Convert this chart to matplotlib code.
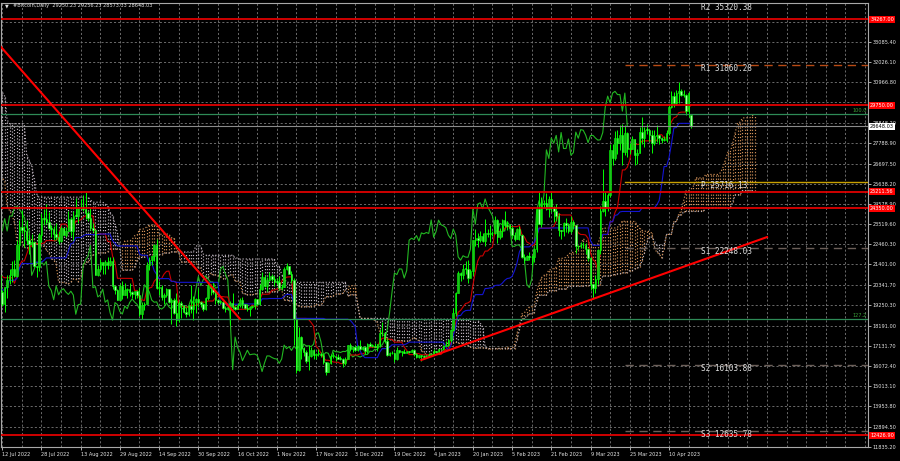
import matplotlib
matplotlib.use("Agg")
import matplotlib.pyplot as plt
import numpy as np
import pandas as pd
from matplotlib import font_manager

# daily bars from 2022-04-25; bars before 11 Jul 2022 are only there to feed the Ichimoku
first_day = "2022-04-25"
first_open = 39440
last_open = 29250.23

highs = [
    40620, 40800, 39450, 40370, 39400, 38800,
    38680, 39150, 38650, 39970, 39850, 36650, 36130, 35500, 34240, 32620,
    32130, 30030, 30980, 30220, 31420, 31300, 30760, 30680, 30500, 30730,
    29610, 30420, 30620, 29810, 30190, 29830, 29360, 29150, 29520, 32150, 32250,
    31950, 30620, 30640, 29920, 30130, 31720, 31550, 31300, 30650, 30320,
    29420, 28530, 26840, 23000, 22700, 22920, 21320, 20740, 20800, 21060,
    21690, 20800, 21200, 21510, 21570, 21830, 21490, 21170, 20410, 20140,
    20850, 19400, 19620, 20320, 20700, 20620, 21800, 22500, 21920, 21600,
    20880, 20050, 20230, 20830, 21180, 21560, 21640, 22700, 23750, 24260,
    23400, 23720, 22960, 22990, 22650, 21340, 23030, 24120, 24320, 24580, 24160,
    23460, 23410, 23590, 23180, 23420, 23320, 23350, 24200, 23900, 24200,
    24900, 24440, 24860, 25050, 25210, 24220, 24440, 23590, 23200, 21380,
    21680, 21520, 21640, 21800, 21810, 21800, 20340, 20140, 20360, 20540, 20450,
    20180, 20430, 20030, 20000, 20050, 20150, 19430, 19440, 21540, 21770,
    21850, 22480, 22760, 20520, 20300, 19880, 20170, 20110, 19660, 19620,
    19900, 19480, 19470, 19300, 19190, 19300, 20340, 19750, 19620, 20160,
    19480, 19390, 19680, 20460, 20360, 20440, 20040, 19600, 19520, 19500,
    19220, 19200, 19500, 19900, 19210, 19360, 19640, 19690, 19350, 19320,
    19230, 19250, 19660, 19590, 20380, 21000, 20840, 20730, 21030, 20910, 20790,
    20670, 20780, 20380, 21280, 21460, 21340, 21040, 20670, 18590, 18140,
    17640, 17060, 16890, 17150, 17090, 16970, 16730, 16940, 16800, 16740,
    16300, 16290, 16680, 16790, 16610, 16680, 16590, 16480, 16530, 17200,
    17300, 17100, 17150, 17190, 17420, 17100, 17130, 17280, 17350, 17220,
    17260, 17240, 18000, 18370, 17850, 17520, 16800, 16860, 16810, 17060,
    16900, 16860, 16950, 16870, 16860, 16940, 16960, 16780, 16650, 16640, 16630,
    16630, 16760, 16780, 16990, 16880, 16990, 16980, 17180, 17390, 17490,
    17990, 19100, 19960, 21080, 21000, 21440, 21600, 21630, 21180, 22700,
    23280, 23050, 23170, 23080, 23790, 23240, 23480, 23160, 23930, 23780, 23300,
    23770, 24230, 23690, 23550, 23430, 23130, 23330, 23430, 22980, 21940,
    21890, 22080, 21890, 22290, 24340, 25230, 24960, 24770, 25130, 25020,
    25250, 24470, 24570, 24130, 23210, 23640, 23860, 23560,
    23950, 23760, 23470, 22420, 22600, 22560, 22530, 22270, 21820, 20380,
    20830, 22190, 24490, 26390, 25200, 25170, 27720, 27720, 28390, 28450,
    28750, 28800, 28740, 28370, 27760, 28160, 27990, 27480, 28620, 29160, 28640,
    28800, 28520, 28480, 28440, 28740, 28180, 28110, 28170, 28470, 29770,
    30520, 30440, 30560, 31000, 30600, 30550, 30330, 30440, 29256.23,
]

lows = [
    38200, 37700, 37880, 38880, 38200, 37600,
    37390, 38050, 37520, 37680, 35860, 35270, 34780, 33710, 30030, 29940,
    27990, 26700, 28750, 28690, 29480, 29110, 29450, 28690, 28700, 28750,
    28950, 29230, 28900, 28650, 29310, 28030, 28260, 28490, 28860, 29370, 31260,
    29330, 29600, 29280, 29480, 29460, 29880, 29250, 29900, 29950, 28860,
    28100, 26600, 22310, 20850, 20110, 20240, 20270, 17620, 17960, 19670,
    20370, 19770, 19900, 20870, 20890, 20970, 20520, 20190, 19890, 18640,
    18980, 18990, 18790, 19050, 19300, 19800, 20250, 21220, 21350, 20700,
    19880, 19240, 18910, 19630, 20400, 20480, 20770, 20770, 21660, 23050,
    22340, 22500, 21960, 22300, 21260, 20730, 21060, 22590, 23450, 23520, 23260,
    22850, 22670, 22700, 22460, 22600, 22950, 22860, 23150, 22900, 22700,
    23900, 23580, 24300, 24200, 23800, 23710, 23220, 23120, 20840, 20790,
    21080, 20900, 20890, 21160, 21310, 20110, 19830, 19540, 19560, 19600, 19840,
    19650, 19770, 19660, 19610, 19650, 18690, 18560, 19030, 19320, 21120,
    21360, 21600, 20090, 19800, 19560, 19350, 19700, 19390, 18270, 18800,
    18170, 18360, 18600, 18840, 18650, 18680, 18850, 18510, 18880, 19190,
    19180, 18970, 19030, 19520, 19780, 19860, 19350, 19330, 19330, 19090,
    18930, 19000, 18200, 19090, 19020, 19060, 19160, 19130, 19080, 18950,
    18680, 19130, 19080, 19200, 19300, 20060, 20220, 20010, 20560, 20520, 20260,
    20370, 20060, 20040, 20200, 21090, 20880, 20440, 17200, 15680, 15800,
    16420, 16590, 16230, 15870, 16560, 16440, 16440, 16620, 16560, 16180,
    15600, 15750, 16170, 16480, 16350, 16420, 16400, 16000, 16110, 16430,
    16870, 16800, 16870, 16880, 16900, 16910, 16690, 16750, 17100, 17090,
    17070, 16880, 17090, 17660, 17280, 16580, 16590, 16680, 16280, 16400,
    16740, 16590, 16780, 16770, 16730, 16790, 16600, 16470, 16500, 16360, 16490,
    16500, 16550, 16600, 16660, 16760, 16700, 16910, 16910, 17100, 17140,
    17320, 17910, 18720, 19900, 20550, 20630, 20890, 20420, 20670, 20870,
    22370, 22340, 22560, 22600, 22360, 22860, 22570, 22880, 22980, 22550, 22720,
    22820, 23380, 23230, 23270, 22780, 22660, 22750, 22680, 21720, 21480,
    21620, 21630, 21390, 21550, 22080, 23530, 23380, 24430, 24280, 23870,
    24150, 23630, 23670, 22880, 22750, 22910, 23130, 23030,
    23050, 23250, 22000, 22200, 22280, 22290, 21950, 21600, 20050, 19570,
    19890, 20360, 21950, 24150, 23930, 24210, 24930, 26650, 26870, 27190,
    27390, 26650, 27160, 27020, 27190, 27460, 26620, 26660, 27250, 27720, 27560,
    28250, 27880, 27280, 27690, 27840, 27740, 27800, 27880, 27810, 28180,
    29620, 29690, 29800, 29900, 30250, 30170, 29270, 29150, 28573.33,
]

closes = [
    40430, 38120, 39240, 39740, 38600, 37640,
    38470, 38530, 37750, 39700, 36550, 36010, 35470, 34060, 30300, 31020,
    28940, 29050, 29280, 29860, 31310, 29870, 30420, 28700, 30300, 29200,
    29430, 30320, 29100, 29650, 29560, 29270, 28630, 29020, 29450, 31730, 31790,
    29800, 30450, 29700, 29860, 29900, 31370, 31120, 30200, 30110, 29090,
    28420, 26570, 22480, 22130, 22570, 20380, 20470, 19000, 20550, 20700,
    20280, 19950, 21100, 21230, 21500, 21030, 20730, 20280, 20100, 19780,
    19300, 19250, 19300, 20230, 20190, 20550, 21630, 21590, 21590, 20860,
    19970, 19330, 20210, 20570, 20830, 21190, 20780, 22430, 23390, 23230,
    23160, 22680, 22460, 22580, 21310, 21250, 22950, 23850, 23770, 23640, 23300,
    23270, 22980, 22820, 22620, 23310, 22950, 23180, 23810, 23160, 23950,
    23940, 24400, 24440, 24310, 24100, 23850, 23340, 23190, 20830, 21140,
    21520, 21400, 21530, 21370, 21560, 20260, 20040, 19550, 20280, 19810, 20050,
    20130, 19950, 19830, 20000, 19800, 18790, 19290, 19320, 21360, 21650,
    21830, 22400, 20180, 20240, 19700, 19800, 20110, 19420, 19540, 18870,
    18480, 19400, 19300, 18930, 18800, 19220, 19080, 19410, 19590, 19430,
    19310, 19060, 19620, 20340, 20160, 19960, 19530, 19420, 19440, 19130,
    19060, 19160, 19380, 19180, 19070, 19270, 19550, 19330, 19130, 19050,
    19170, 19200, 19570, 19330, 20090, 20770, 20290, 20600, 20810, 20630, 20490,
    20480, 20160, 20210, 21150, 21300, 20920, 20600, 18540, 15880, 17590,
    17040, 16800, 16350, 16620, 16900, 16660, 16690, 16700, 16630, 16280,
    15780, 16230, 16600, 16600, 16520, 16460, 16440, 16210, 16440, 17170,
    16980, 17090, 16890, 17110, 16970, 17090, 16840, 17220, 17130, 17130,
    17090, 17210, 17780, 17810, 17360, 16630, 16780, 16740, 16440, 16900,
    16820, 16820, 16780, 16840, 16830, 16920, 16710, 16550, 16630, 16600, 16540,
    16610, 16670, 16680, 16850, 16830, 16950, 16940, 17120, 17180, 17440,
    17940, 18850, 19930, 20950, 20870, 21170, 21160, 20690, 21080, 22680,
    22780, 22710, 22920, 22630, 23060, 23010, 23080, 23030, 23740, 22830, 23140,
    23730, 23490, 23430, 23330, 22940, 22760, 23260, 22950, 21800, 21630,
    21860, 21790, 21780, 22200, 24330, 23520, 24570, 24640, 24330, 24840,
    24440, 24190, 23950, 23190, 23160, 23560, 23490, 23150,
    23650, 23470, 22360, 22350, 22430, 22410, 22200, 21720, 20360, 20190,
    20630, 22160, 24200, 24750, 24380, 25050, 27420, 26970, 28040, 27770,
    28180, 27310, 28330, 27490, 27490, 27990, 27140, 27270, 28350, 28030, 28480,
    28450, 28200, 27800, 28170, 28180, 28040, 27930, 27950, 28330, 29650,
    30240, 29890, 30400, 30490, 30320, 30320, 29450, 30400, 28648.03,
]

title_text = "#Bitcoin,Daily  29250.23 29256.23 28573.33 28648.03"
current_price = 28648.03
red_levels = [34267.00, 29750.00, 25211.56, 24350.00, 12426.90]
fibo_levels = [29290, 18540]
fibo_names = ["100.0", "127.2"]
pivot_names = ["R2", "R1", "P", "S1", "S2", "S3"]
pivot_values = [35320.38, 31860.28, 25716.13, 22248.03, 16103.88, 12635.78]
pivot_start = "2023-03-23"
trend_down_dates = ["2022-07-10", "2022-10-17"]
trend_down_prices = [33040, 18540]
trend_up_dates = ["2022-12-30", "2023-05-20"]
trend_up_prices = [16390, 22840]
# price scale: every level gets a grid line, the ones hidden under the red boxes get no text
grid_prices = [11835.20, 12894.50, 13953.80, 15013.10, 16072.40, 17131.70, 18191.00,
               19250.30, 20341.70, 21401.00, 22460.30, 23519.60, 24578.90, 25638.20,
               26697.50, 27788.90, 28848.20, 29907.50, 30966.80, 32026.10, 33085.40,
               34144.70]
hidden_prices = [29907.50, 34144.70]
x_label_dates = ["2022-07-12", "2022-07-28", "2022-08-13", "2022-08-29", "2022-09-14",
                 "2022-09-30", "2022-10-16", "2022-11-01", "2022-11-17", "2022-12-03",
                 "2022-12-19", "2023-01-04", "2023-01-20", "2023-02-05", "2023-02-21",
                 "2023-03-09", "2023-03-25", "2023-04-10"]

origin = pd.Timestamp("2022-07-12")


def day_index(d):
    return (pd.Timestamp(d) - origin).days


# fonts
names = {f.name for f in font_manager.fontManager.ttflist}
if "Liberation Sans Narrow" in names:
    small_font, small_size = "Liberation Sans Narrow", 4.8
else:
    small_font, small_size = "DejaVu Sans", 3.6
mono = "DejaVu Sans Mono"

dates = pd.date_range(first_day, periods=len(closes), freq="D")
idx = np.array((dates - origin).days)
h = pd.Series(highs, dtype=float)
l = pd.Series(lows, dtype=float)
c = pd.Series(closes, dtype=float)
o = c.shift(1)
o.iloc[0] = first_open
o.iloc[-1] = last_open

# ichimoku 9/26/52
tenkan = (h.rolling(9).max() + l.rolling(9).min()) / 2
kijun = (h.rolling(26).max() + l.rolling(26).min()) / 2
span_a = (tenkan + kijun) / 2
span_b = (h.rolling(52).max() + l.rolling(52).min()) / 2

fig = plt.figure(figsize=(9, 4.61), dpi=100, facecolor="black")
ax = fig.add_axes([1 / 900, 14 / 461, 867 / 900, 444 / 461], facecolor="black")
ax.set_xlim(-0.5, 353.2)
ax.set_ylim(11819.5, 35129)
top_price = 35129

# grid
for yt in grid_prices:
    ax.axhline(yt, color="#7a7a7a", lw=0.6, ls=(0, (2.5, 2.5)), zorder=0)
for xv in range(0, 354, 8):
    ax.axvline(xv, color="#7a7a7a", lw=0.6, ls=(0, (2.5, 2.5)), zorder=0)

# cloud (dotted hatching between span A and span B)
bull_col = "#d49258"
bear_col = "#bfb5bf"
cx = idx + 26
ok = span_a.notna() & span_b.notna()
bull = ok & (span_a >= span_b)
bear = ok & (span_a < span_b)
ax.vlines(cx[bull], span_b[bull], span_a[bull], color=bull_col, lw=0.85,
          linestyles=(0, (1, 1.7)), zorder=1)
ax.vlines(cx[bear], span_a[bear], span_b[bear], color=bear_col, lw=0.85,
          linestyles=(0, (1, 1.7)), zorder=1)
ax.plot(cx, span_a, color=bull_col, lw=0.85, ls=(0, (1, 1.7)), zorder=1)
ax.plot(cx, span_b, color=bear_col, lw=0.85, ls=(0, (1, 1.7)), zorder=1)

# ichimoku lines
ax.plot(idx - 26, c, color="#22b822", lw=0.8, zorder=2)
ax.plot(idx, tenkan, color="#cc0000", lw=0.8, zorder=3)
ax.plot(idx, kijun, color="#1414d2", lw=0.8, zorder=3)

# candles
up = c >= o
wick_lo = np.minimum(l, np.minimum(o, c))
wick_hi = np.maximum(h, np.maximum(o, c))
ax.vlines(idx, wick_lo, wick_hi, color="#00ff00", lw=0.7, zorder=4)
body_lo = np.minimum(o, c)
body_h = np.maximum(np.abs(c - o), 40)
ax.bar(idx[up], body_h[up], bottom=body_lo[up], width=0.62, color="#1fbf1f",
       edgecolor="#00ff00", lw=0.4, zorder=5)
ax.bar(idx[~up], body_h[~up], bottom=body_lo[~up], width=0.62, color="#a8ffa8",
       edgecolor="#00ff00", lw=0.4, zorder=5)

# horizontal levels
for lv in red_levels:
    ax.axhline(lv, color="#e00000", lw=1.3, zorder=6)
for lv in fibo_levels:
    ax.axhline(lv, color="#2e8b57", lw=0.9, zorder=6)
ax.axhline(current_price, color="#8a8a8a", lw=0.8, zorder=6)

p0 = day_index(pivot_start)
pivot_colors = {"R2": "#b84a14", "R1": "#b84a14", "P": "#c8a000",
                "S1": "#6b5e58", "S2": "#6b5e58", "S3": "#6b5e58"}
for nm, pv in zip(pivot_names, pivot_values):
    col = pivot_colors[nm]
    if nm == "P":
        ax.plot([p0, 353.2], [pv, pv], color=col, lw=1.0, zorder=6)
    else:
        ax.plot([p0, 353.2], [pv, pv], color=col, lw=1.0, ls=(0, (6, 4)), zorder=6)
    ty = min(pv - 170, top_price - 230)
    ax.text(0.8074, ty, f"{nm} {pv:.2f}", transform=ax.get_yaxis_transform(),
            color="#dedede", fontsize=5.6, family=mono, va="center", ha="left",
            zorder=12, clip_on=False)

# trend lines
ax.plot([day_index(d) for d in trend_down_dates], trend_down_prices,
        color="#ff0000", lw=1.5, zorder=7)
ax.plot([day_index(d) for d in trend_up_dates], trend_up_prices,
        color="#ff0000", lw=1.5, zorder=7)

# fibo labels
for nm, lv in zip(fibo_names, fibo_levels):
    ax.text(0.9985, lv + 200, nm, transform=ax.get_yaxis_transform(), color="#3aa03a",
            fontsize=small_size, family=small_font, ha="right", va="center", zorder=12)

# axes look
for sp in ax.spines.values():
    sp.set_color("#a8a8a8")
    sp.set_linewidth(0.8)
ax.yaxis.tick_right()
ax.set_yticks(grid_prices)
ax.set_yticklabels(["" if v in hidden_prices else f"{v:.2f}" for v in grid_prices])
ax.set_xticks([day_index(d) for d in x_label_dates])
ax.set_xticklabels([pd.Timestamp(d).strftime("%-d %b %Y") for d in x_label_dates])
ax.tick_params(axis="both", colors="#c8c8c8", labelcolor="#e6e6e6", length=2,
               width=0.6, labelsize=small_size, pad=1.5)
for lbl in ax.get_xticklabels() + ax.get_yticklabels():
    lbl.set_family(small_font)
for lbl in ax.get_xticklabels():
    lbl.set_ha("left")

# price boxes on the right scale
for lv in red_levels:
    ax.text(1.0025, lv, f"{lv:.2f}", transform=ax.get_yaxis_transform(), color="white",
            fontsize=small_size, family=small_font, va="center", ha="left", zorder=20,
            clip_on=False, bbox=dict(boxstyle="square,pad=0.2", fc="#ff0000", ec="none"))
ax.text(1.0025, current_price, f"{current_price:.2f}", transform=ax.get_yaxis_transform(),
        color="black", fontsize=small_size, family=small_font, va="center", ha="left",
        zorder=20, clip_on=False,
        bbox=dict(boxstyle="square,pad=0.2", fc="white", ec="none"))

# title
fig.text(5 / 900, 1 - 6 / 461, "\u25bc", color="#e0e0e0", fontsize=3.5, va="center")
fig.text(13 / 900, 1 - 6 / 461, title_text, color="#e0e0e0", fontsize=small_size,
         family=small_font, va="center")

fig.savefig("out.png", dpi=100, facecolor="black")
